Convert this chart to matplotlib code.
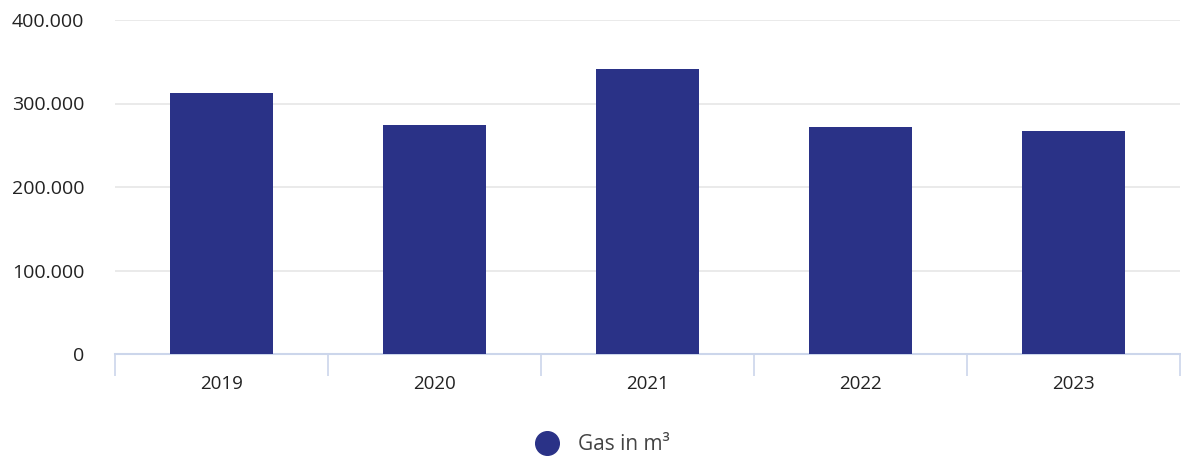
import matplotlib.pyplot as plt
from matplotlib.ticker import FuncFormatter
import numpy as np

jahre = ["2019", "2020", "2021", "2022", "2023"]
gas_m3 = [313000, 274000, 341000, 272000, 267000]
y_ticks = [0, 100000, 200000, 300000, 400000]

plt.rcParams['font.family'] = ['Open Sans', 'DejaVu Sans']

fig = plt.figure(figsize=(11.81, 4.57), dpi=100)
ax = fig.add_axes([115/1181, 1 - 354/457, 1065/1181, 334/457])

x = np.arange(len(jahre))
ax.bar(x, gas_m3, width=0.48, color='#2a3287', zorder=3)

ax.set_xlim(-0.5, len(jahre) - 0.5)
ax.set_ylim(0, 400000)
ax.set_yticks(y_ticks)
ax.yaxis.set_major_formatter(FuncFormatter(lambda v, p: f"{int(v):,}".replace(",", ".")))
ax.grid(axis='y', color='#e6e6e6', linewidth=1.2, zorder=0)

# category separators as ticks
ax.set_xticks(np.arange(len(jahre) + 1) - 0.5)
ax.set_xticklabels([])
ax.set_xticks(x, minor=True)
ax.set_xticklabels(jahre, minor=True, fontsize=13.5, color='#222222')
ax.tick_params(axis='x', which='major', length=16, width=1.2, color='#ccd6eb')
ax.tick_params(axis='x', which='minor', length=0, pad=15)
ax.tick_params(axis='y', length=0, pad=22, labelsize=14, labelcolor='#222222')

for s in ['top', 'right', 'left']:
    ax.spines[s].set_visible(False)
ax.spines['bottom'].set_color('#ccd6eb')
ax.spines['bottom'].set_linewidth(1.5)

fig.legend(handles=[plt.Line2D([], [], marker='o', linestyle='', markersize=17,
                               color='#2a3287', label='Gas in m³')],
           loc='center', bbox_to_anchor=(598/1181, 1 - 445/457), frameon=False,
           fontsize=15, labelcolor='#444444', handletextpad=0.45)

fig.savefig('out.png', dpi=100)
